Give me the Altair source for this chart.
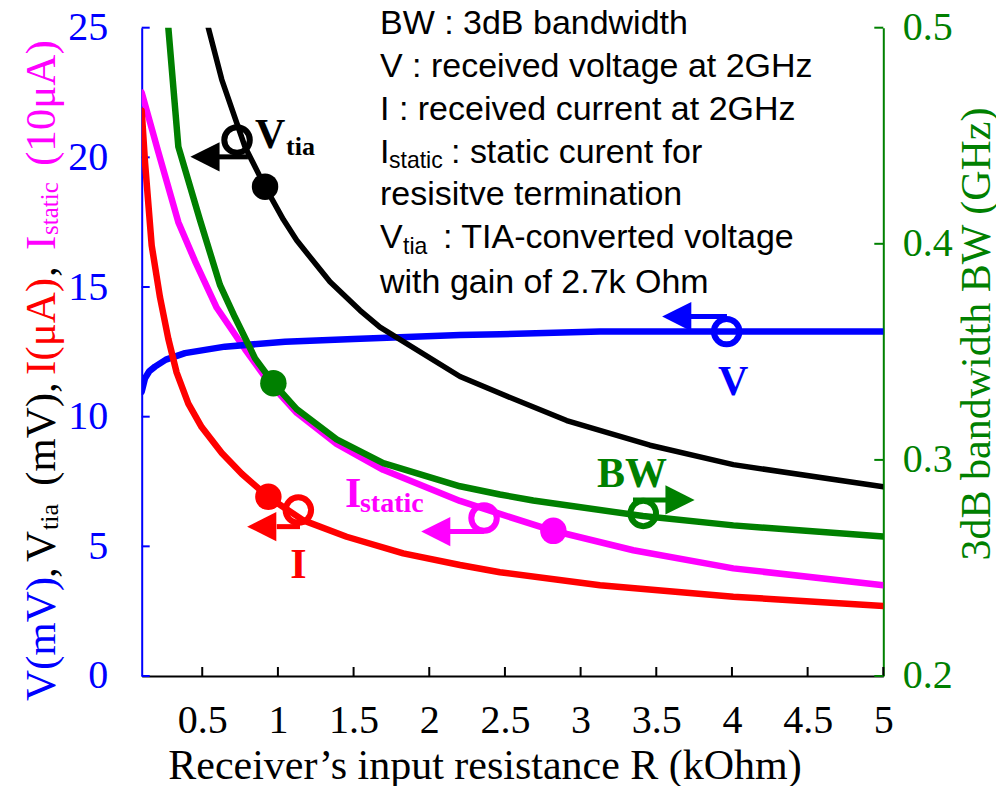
import altair as alt
import pandas as pd

# ---------------- data ----------------
R_I = [0.10, 0.122, 0.166, 0.221, 0.276, 0.331, 0.408, 0.496, 0.629, 0.761, 0.937,
       1.168, 1.454, 1.828, 2.203, 2.467, 3.128, 4.009, 5.0]
I_uA = [21.8, 19.8, 16.6, 14.6, 13.0, 11.7, 10.5, 9.6, 8.6, 7.8, 6.9,
        6.0, 5.37, 4.73, 4.28, 4.0, 3.5, 3.06, 2.70]

R_IS = [0.10, 0.21, 0.342, 0.452, 0.596, 0.783, 0.937, 1.124, 1.388, 1.696, 2.203,
        2.467, 2.82, 3.348, 4.009, 5.0]
I_static = [22.5, 20.2, 17.5, 16.0, 14.2, 12.6, 11.35, 10.15, 8.95, 7.95, 6.75,
            6.25, 5.6, 4.85, 4.15, 3.5]

R_V = [0.10, 0.122, 0.15, 0.188, 0.26, 0.386, 0.65, 1.047, 1.5, 2.203, 2.467, 3.128, 5.0]
V_mV = [10.96, 11.48, 11.75, 11.93, 12.2, 12.45, 12.7, 12.89, 13.0, 13.15, 13.18, 13.28,
        13.28]

R_VT = [0.54, 0.629, 0.783, 0.915, 1.036, 1.124, 1.344, 1.542, 1.674, 2.203, 2.467,
        2.908, 3.458, 4.009, 5.0]
V_tia = [25.0, 23.0, 20.4, 18.87, 17.6, 16.8, 15.2, 14.1, 13.45, 11.55, 10.9,
         9.85, 8.9, 8.15, 7.3]

R_BW = [0.276, 0.342, 0.485, 0.617, 0.716, 0.849, 0.97, 1.124, 1.388, 1.696, 2.203,
        2.467, 2.687, 3.412, 4.009, 5.0]
BW_GHz = [0.500, 0.445, 0.411, 0.381, 0.366, 0.347, 0.3355, 0.3235, 0.3095, 0.2985, 0.2878,
          0.2840, 0.2812, 0.2740, 0.2697, 0.2645]

# highlighted points
DOT_R = [0.915, 0.937, 2.82]
DOT_V = [18.87, 6.91, 5.6]
DOT_C = ["black", "red", "magenta"]
BW_DOT_R = [0.97]
BW_DOT_V = [0.3355]

X_TICKS = [0.5, 1, 1.5, 2, 2.5, 3, 3.5, 4, 4.5, 5]
YL_TICKS = [0, 5, 10, 15, 20, 25]
YR_TICKS = [0.2, 0.3, 0.4, 0.5]

# annotation hooks (ring + stem + arrow head), left-scale coordinates
HOOK_C = ["black", "red", "magenta", "blue", "green"]
RING_R = [0.730, 1.135, 2.362, 3.965, 3.414]
RING_V = [20.67, 6.40, 6.09, 13.28, 6.27]
STEM_R1 = [0.604, 0.992, 2.137, 3.723, 3.346]
STEM_R2 = [0.802, 1.146, 2.361, 3.967, 3.569]
STEM_V = [20.02, 5.76, 5.57, 13.86, 6.79]
HEAD_R = [0.518, 0.893, 2.043, 3.635, 3.657]
HEAD_DIR = ["left", "left", "left", "left", "right"]

# curve labels
LAB_T = ["V", "tia", "I", "I", "static", "V", "BW"]
LAB_R = [0.849, 1.054, 1.081, 1.443, 1.542, 3.908, 3.108]
LAB_V = [20.36, 20.09, 3.78, 6.52, 6.32, 10.84, 7.29]
LAB_C = ["black", "black", "red", "magenta", "magenta", "blue", "green"]
LAB_S = [42, 26, 42, 42, 28, 42, 42]

# ---------------- layout ----------------
W, H = 741.6, 648.3
X0, Y0 = 141.7, 27.7          # page position of plot origin
SERIF = "Liberation Serif"
SANS = "Liberation Sans"

XS = alt.Scale(domain=[0.1, 5], nice=False, zero=False)
YLS = alt.Scale(domain=[0, 25], nice=False, zero=False)
YRS = alt.Scale(domain=[0.2, 0.5], nice=False, zero=False)

X_AXIS = alt.Axis(values=X_TICKS, format="~g", title=None, grid=False, ticks=False,
                  domainColor="black", domainWidth=2, labelFont=SERIF, labelFontSize=40,
                  labelColor="black", labelPadding=25, labelFlush=False, labelOverlap=False)
YL_AXIS = alt.Axis(values=YL_TICKS, title=None, grid=False, ticks=False,
                   domainColor="blue", domainWidth=2, labelFont=SERIF, labelFontSize=40,
                   labelColor="blue", labelPadding=34, labelFlush=False, labelOverlap=False)
YR_AXIS = alt.Axis(orient="right", values=YR_TICKS, format="~g", title=None, grid=False,
                   ticks=False, domainColor="green", domainWidth=2, labelFont=SERIF,
                   labelFontSize=40, labelColor="green", labelPadding=19, labelFlush=False,
                   labelOverlap=False)


def X(f="R"):
    return alt.X(f"{f}:Q", scale=XS, axis=X_AXIS)


def YL(f="v"):
    return alt.Y(f"{f}:Q", scale=YLS, axis=YL_AXIS)


def YR(f="v"):
    return alt.Y(f"{f}:Q", scale=YRS, axis=YR_AXIS)


def curve(r, v, color, width, right=False):
    df = pd.DataFrame({"R": r, "v": v})
    return alt.Chart(df).mark_line(color=color, strokeWidth=width, strokeCap="round",
                                   strokeJoin="round", clip=True).encode(
        x=X(), y=YR() if right else YL())


def label(text, x, y, size, color, font, weight="normal", angle=0, align="left"):
    return alt.Chart(pd.DataFrame({"t": [text]})).mark_text(
        font=font, fontSize=size, fontWeight=weight, color=color, angle=angle,
        align=align, baseline="alphabetic").encode(
        text="t:N", x=alt.value(x - X0), y=alt.value(y - Y0))


layers = []

# inward ticks
layers.append(alt.Chart(pd.DataFrame({"R": X_TICKS})).mark_rule(color="black", strokeWidth=2)
              .encode(x=X(), y=alt.value(H - 9), y2=alt.value(H)))
layers.append(alt.Chart(pd.DataFrame({"v": YL_TICKS})).mark_rule(color="blue", strokeWidth=2)
              .encode(y=YL(), x=alt.value(0), x2=alt.value(8)))

# curves on left scale
layers.append(curve(R_IS, I_static, "magenta", 6.5))
layers.append(curve(R_V, V_mV, "blue", 6.5))
layers.append(curve(R_I, I_uA, "red", 6.5))
layers.append(curve(R_VT, V_tia, "black", 5.5))

dots = pd.DataFrame({"R": DOT_R, "v": DOT_V, "c": DOT_C})
layers.append(alt.Chart(dots).mark_point(filled=True, shape="circle", size=700, opacity=1,
                                         strokeWidth=0)
              .encode(x=X(), y=YL(), color=alt.Color("c:N", scale=None)))

# annotation hooks
rings = pd.DataFrame({"R": RING_R, "v": RING_V, "c": HOOK_C})
layers.append(alt.Chart(rings).mark_point(filled=False, shape="circle", size=650, opacity=1,
                                          strokeWidth=6)
              .encode(x=X(), y=YL(), color=alt.Color("c:N", scale=None)))
stems = pd.DataFrame({"R": STEM_R1, "R2": STEM_R2, "v": STEM_V, "c": HOOK_C})
layers.append(alt.Chart(stems).mark_rule(strokeWidth=5)
              .encode(x=X(), x2="R2:Q", y=YL(), color=alt.Color("c:N", scale=None)))
heads = pd.DataFrame({"R": HEAD_R, "v": STEM_V, "c": HOOK_C, "d": HEAD_DIR})
for d, path in [("left", "M-1,0L1,-1L1,1Z"), ("right", "M1,0L-1,-1L-1,1Z")]:
    layers.append(alt.Chart(heads[heads.d == d]).mark_point(
        filled=True, shape=path, size=850, opacity=1, strokeWidth=0)
        .encode(x=X(), y=YL(), color=alt.Color("c:N", scale=None)))

# curve labels
labs = pd.DataFrame({"R": LAB_R, "v": LAB_V, "t": LAB_T, "c": LAB_C, "s": LAB_S})
layers.append(alt.Chart(labs).mark_text(font=SERIF, fontWeight="bold", align="left",
                                        baseline="alphabetic")
              .encode(x=X(), y=YL(), text="t:N", color=alt.Color("c:N", scale=None),
                      size=alt.Size("s:Q", scale=None)))

# legend block
LEG = 34
SUB = 23
layers += [
    label("BW : 3dB bandwidth", 380, 34, LEG, "black", SANS),
    label("V : received voltage at 2GHz", 380, 77, LEG, "black", SANS),
    label("I : received current at 2GHz", 380, 120, LEG, "black", SANS),
    label("I", 380, 163, LEG, "black", SANS),
    label("static", 389, 168, SUB, "black", SANS),
    label(": static curent for", 451, 163, LEG, "black", SANS),
    label("resisitve termination", 380, 205, LEG, "black", SANS),
    label("V", 380, 248, LEG, "black", SANS),
    label("tia", 403, 254, SUB, "black", SANS),
    label(": TIA-converted voltage", 443, 248, LEG, "black", SANS),
    label("with gain of 2.7k Ohm", 380, 293, LEG, "black", SANS),
]

# left (multi-coloured, rotated) axis title
TB, TS = 55, 58
layers += [
    label("V(mV)", TB, 701, 43, "blue", SERIF, angle=270),
    label(",", TB, 578, 43, "black", SERIF, angle=270),
    label("V", TB, 562, 43, "black", SERIF, angle=270),
    label("tia", TS, 530, 26, "black", SERIF, angle=270),
    label("(mV)", TB, 486, 43, "black", SERIF, angle=270),
    label(",", TB, 393, 43, "black", SERIF, angle=270),
    label("I(μA)", TB, 375, 43, "red", SERIF, angle=270),
    label(",", TB, 277, 43, "black", SERIF, angle=270),
    label("I", TB, 250, 43, "magenta", SERIF, angle=270),
    label("static", TS, 235, 25, "magenta", SERIF, angle=270),
    label("(10μA)", TB, 166, 43, "magenta", SERIF, angle=270),
]

# x and right axis titles
layers.append(label("Receiver’s input resistance R (kOhm)", 485, 779, 42, "black", SERIF,
                    align="center"))
layers.append(label("3dB bandwidth BW (GHz)", 990, 334, 42, "green", SERIF, angle=270,
                    align="center"))

left = alt.layer(*layers)

right = alt.layer(
    curve(R_BW, BW_GHz, "green", 6.5, right=True),
    alt.Chart(pd.DataFrame({"R": BW_DOT_R, "v": BW_DOT_V})).mark_point(
        filled=True, shape="circle", size=700, opacity=1, color="green", strokeWidth=0)
    .encode(x=X(), y=YR()),
    alt.Chart(pd.DataFrame({"v": YR_TICKS})).mark_rule(color="green", strokeWidth=2)
    .encode(y=YR(), x=alt.value(W - 9), x2=alt.value(W)),
)

chart = alt.layer(left, right).resolve_scale(y="independent").properties(
    width=W, height=H,
    autosize=alt.AutoSizeParams(type="none"),
    padding={"left": X0 - 8, "top": Y0 - 8, "right": 113, "bottom": 110},
).configure_view(stroke=None)

chart.save("out.html", embed_options={"renderer": "svg", "actions": False})
